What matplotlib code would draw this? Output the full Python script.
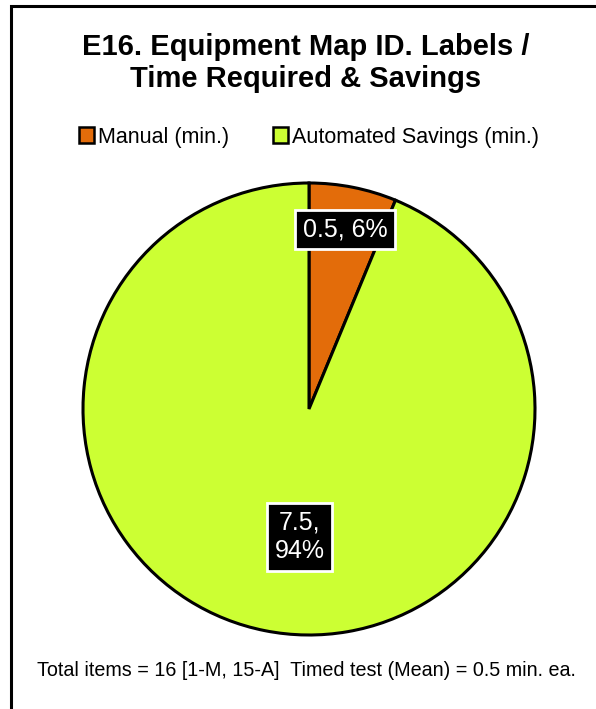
import numpy as np
import matplotlib
matplotlib.use("Agg")
import matplotlib.pyplot as plt
from matplotlib.patches import Rectangle

# Data
categories = ["Manual (min.)", "Automated Savings (min.)"]
minutes = [0.5, 7.5]
percents = [6, 94]
colors = ["#E36C0A", "#CCFF33"]
title = "E16. Equipment Map ID. Labels /\nTime Required & Savings"
footer = "Total items = 16 [1-M, 15-A]  Timed test (Mean) = 0.5 min. ea."

W, H = 596, 709
fig = plt.figure(figsize=(W / 100, H / 100), dpi=100)
fig.patch.set_facecolor("white")

# chart frame (top and left edges visible)
frame = Rectangle((11 / W, -0.1), 1.2, 1 - 6 / H + 0.1, transform=fig.transFigure,
                  fill=False, edgecolor="black", linewidth=2.2)
fig.add_artist(frame)

cx, cy, r = 309, 409, 226
ax = fig.add_axes([(cx - r) / W, 1 - (cy + r) / H, 2 * r / W, 2 * r / H])
wedges, _ = ax.pie(minutes, colors=colors, startangle=90, counterclock=False,
                   wedgeprops=dict(edgecolor="black", linewidth=2.2))
ax.set_xlim(-1, 1)
ax.set_ylim(-1, 1)
ax.set_aspect("equal")

# data labels (positions in units of the pie radius)
label_pos = [(0.159, 0.795), (-0.040, -0.566)]
label_text = [f"{minutes[0]:g}, {percents[0]}%", f"{minutes[1]:g},\n{percents[1]}%"]
for (lx, ly), txt in zip(label_pos, label_text):
    ax.text(lx, ly, txt, ha="center", va="center",
            color="white", fontsize=18, family="Liberation Sans", linespacing=1.25,
            bbox=dict(boxstyle="square,pad=0.3", facecolor="black",
                      edgecolor="white", linewidth=2))

fig.text(306 / W, 1 - 63 / H, title, ha="center", va="center", fontsize=21,
         fontweight="bold", family="Liberation Sans", linespacing=1.15)

handles = [Rectangle((0, 0), 1, 1, facecolor=c, edgecolor="black", linewidth=1.8)
           for c in colors]
fig.legend(handles, categories, loc="center", bbox_to_anchor=(309 / W, 1 - 137 / H),
           ncol=2, frameon=False, prop=dict(family="Liberation Sans", size=15.5),
           handlelength=0.7, handleheight=0.7, handletextpad=0.2,
           columnspacing=2.0)

fig.text(306 / W, 1 - 671 / H, footer, ha="center", va="center", fontsize=14.2,
         family="Liberation Sans")

fig.savefig("out.png", dpi=100)
